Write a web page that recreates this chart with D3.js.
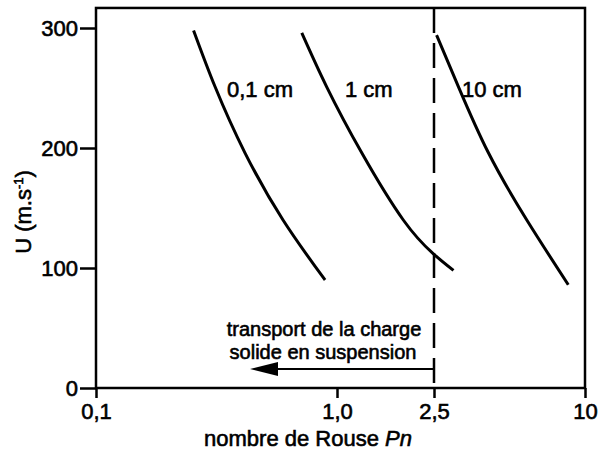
<!DOCTYPE html>
<html lang="fr">
<head>
<meta charset="UTF-8">
<title>Nombre de Rouse</title>
<script src="https://d3js.org/d3.v7.min.js"></script>
<style>
    body { margin: 0; background: white; }
    text { font-family: "Liberation Sans", Arial, sans-serif; fill: black; stroke: black; stroke-width: 0.6px; }
</style>
</head>
<body>
<div id="chart"></div>
<script>
// valeurs : Pn (log) et U (m.s-1)
const pn01 = [0.254, 0.312, 0.415, 0.597, 0.892];
const u01  = [298, 251, 196, 140, 90];
const pn1  = [0.714, 0.906, 1.263, 1.871, 2.48, 2.99];
const u1   = [296, 251, 196, 140, 112, 98];
const pn10 = [2.56, 3.13, 4.12, 5.86, 8.58];
const u10  = [294, 251, 196, 140, 86];
const curveNames = ["0,1 cm", "1 cm", "10 cm"];
const xTicks = [0.1, 1, 2.5, 10];
const xTickLabels = ["0,1", "1,0", "2,5", "10"];
const yTicks = [0, 100, 200, 300];
const pnLimit = 2.5;
const yTop = 316.7;

const W = 601, H = 453;
const svg = d3.select("#chart").append("svg")
    .attr("width", W).attr("height", H);

// axe x a peu pres logarithmique (figure dessinee a la main)
const x = d3.scaleLog().domain([0.1, 1, 2.5, 10]).range([96, 337, 434, 585]);
const y = d3.scaleLinear().domain([0, 300]).range([388, 28]);

// cadre
svg.append("rect")
    .attr("x", x(0.1)).attr("y", y(yTop))
    .attr("width", x(10) - x(0.1)).attr("height", y(0) - y(yTop))
    .attr("fill", "none").attr("stroke", "black").attr("stroke-width", 2.5);

// axe y
const gy = svg.append("g").attr("transform", "translate(" + x(0.1) + ",0)")
    .call(d3.axisLeft(y).tickValues(yTicks).tickSize(16).tickPadding(2));
gy.select(".domain").remove();
gy.selectAll("line").attr("stroke-width", 2.5);
gy.selectAll("text").style("font-size", "22px");

// axe x
const gx = svg.append("g").attr("transform", "translate(0," + y(0) + ")")
    .call(d3.axisBottom(x).tickValues(xTicks)
        .tickFormat((d, i) => xTickLabels[i]).tickSize(10).tickPadding(5));
gx.select(".domain").remove();
gx.selectAll("line").attr("stroke-width", 2.5);
gx.selectAll("text").style("font-size", "22px");

// limite Pn = 2,5
svg.append("line")
    .attr("x1", x(pnLimit)).attr("x2", x(pnLimit))
    .attr("y1", y(yTop)).attr("y2", y(0))
    .attr("stroke", "black").attr("stroke-width", 2.5)
    .attr("stroke-dasharray", "25,10");

// courbes
const line = d3.line()
    .x(d => x(d[0])).y(d => y(d[1]))
    .curve(d3.curveNatural);
const series = [[pn01, u01], [pn1, u1], [pn10, u10]];
series.forEach(s => {
    svg.append("path")
        .datum(s[0].map((p, i) => [p, s[1][i]]))
        .attr("d", line)
        .attr("fill", "none").attr("stroke", "black").attr("stroke-width", 3);
});

// noms des courbes
const labelX = [227, 345, 462];
svg.selectAll(".clab").data(curveNames).enter().append("text")
    .attr("class", "clab")
    .attr("x", (d, i) => labelX[i]).attr("y", 97)
    .style("font-size", "22px")
    .text(d => d);

// fleche : transport en suspension
const ay = 369;
svg.append("line")
    .attr("x1", x(pnLimit)).attr("x2", 270)
    .attr("y1", ay).attr("y2", ay)
    .attr("stroke", "black").attr("stroke-width", 2);
svg.append("path")
    .attr("d", "M250," + ay + " L278," + (ay - 7) + " L278," + (ay + 7) + " Z")
    .attr("fill", "black");
svg.append("text").attr("x", 324).attr("y", 336)
    .attr("text-anchor", "middle").style("font-size", "20px")
    .text("transport de la charge");
svg.append("text").attr("x", 323).attr("y", 359)
    .attr("text-anchor", "middle").style("font-size", "20px")
    .text("solide en suspension");

// titres des axes
const xt = svg.append("text").attr("x", 308).attr("y", 446)
    .attr("text-anchor", "middle").style("font-size", "22px");
xt.append("tspan").text("nombre de Rouse ");
xt.append("tspan").style("font-style", "italic").text("Pn");

const yt = svg.append("text")
    .attr("transform", "translate(31,212) rotate(-90)")
    .attr("text-anchor", "middle").style("font-size", "22px");
yt.append("tspan").text("U (m.s");
yt.append("tspan").attr("dy", -8).style("font-size", "13px").text("-1");
yt.append("tspan").attr("dy", 8).text(")");
</script>
</body>
</html>
